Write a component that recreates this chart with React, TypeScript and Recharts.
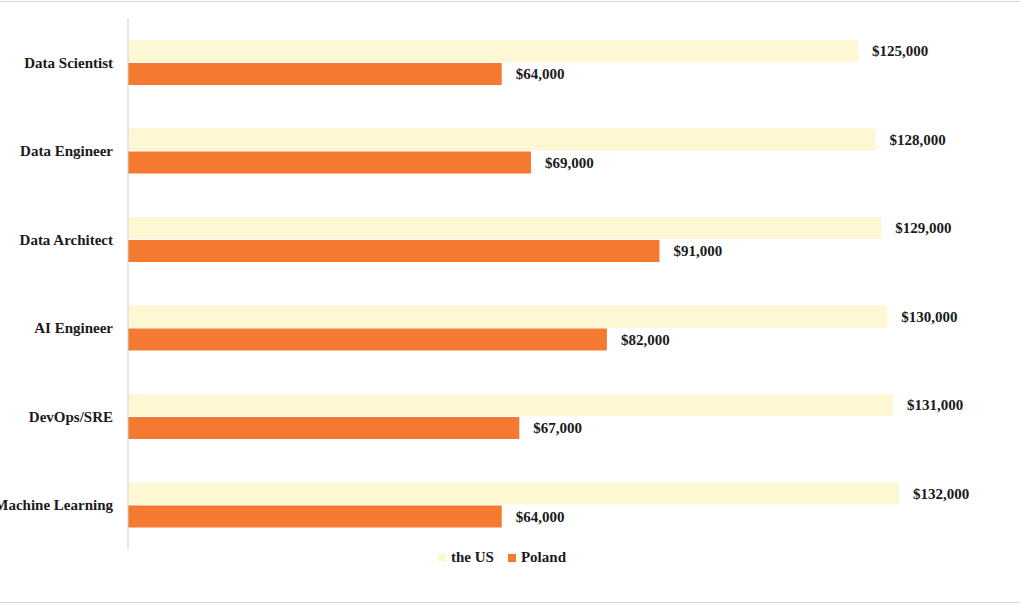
import { BarChart, Bar, XAxis, YAxis, Legend, LabelList } from 'recharts';

const roles = ['Data Scientist', 'Data Engineer', 'Data Architect', 'AI Engineer', 'DevOps/SRE', 'Machine Learning'];
const usSalary = [125000, 128000, 129000, 130000, 131000, 132000];
const plSalary = [64000, 69000, 91000, 82000, 67000, 64000];

const data = roles.map((role, i) => ({ role, us: usSalary[i], pl: plSalary[i] }));

const US_COLOR = '#fdf8d3';
const PL_COLOR = '#f47a32';
const fmt = (v: number) => '$' + v.toLocaleString('en-US');
const font = '"Liberation Serif", "DejaVu Serif", serif';

function LegendBox() {
  const items = [
    { name: 'the US', color: US_COLOR },
    { name: 'Poland', color: PL_COLOR },
  ];
  return (
    <div style={{ display: 'flex', justifyContent: 'center', gap: 14, fontSize: 15, fontWeight: 700, fontFamily: font, color: '#1a1a1a' }}>
      {items.map((it) => (
        <span key={it.name} style={{ display: 'flex', alignItems: 'center', gap: 5 }}>
          <span style={{ width: 8, height: 8, background: it.color, display: 'inline-block' }} />
          {it.name}
        </span>
      ))}
    </div>
  );
}

export default function App() {
  return (
    <div style={{ position: 'absolute', left: 0, top: 0, width: 1020, height: 605, background: '#fff', fontFamily: font }}>
      <div style={{ position: 'absolute', left: 0, right: 0, top: 1, borderTop: '1px solid #d6d6d6' }} />
      <div style={{ position: 'absolute', left: 0, right: 0, top: 602, borderTop: '1px solid #d6d6d6' }} />
      <BarChart
        width={1020}
        height={605}
        data={data}
        layout="vertical"
        margin={{ top: 18, right: 16, bottom: 22, left: 0 }}
        barGap={1}
        barCategoryGap={22}
        style={{ overflow: 'hidden' }}
      >
        <XAxis type="number" domain={[0, 150000]} hide />
        <YAxis
          type="category"
          dataKey="role"
          width={128}
          tickSize={0}
          tickMargin={15}
          axisLine={{ stroke: '#cfcfcf' }}
          tick={{ fill: '#1a1a1a', fontSize: 15, fontWeight: 700, fontFamily: font }}
        />
        <Legend verticalAlign="bottom" height={34} content={() => <LegendBox />} />
        <Bar dataKey="us" name="the US" fill={US_COLOR} barSize={22} isAnimationActive={false}>
          <LabelList dataKey="us" position="right" offset={14} formatter={fmt}
            style={{ fill: '#1a1a1a', fontSize: 15, fontWeight: 700, fontFamily: font }} />
        </Bar>
        <Bar dataKey="pl" name="Poland" fill={PL_COLOR} barSize={22} isAnimationActive={false}>
          <LabelList dataKey="pl" position="right" offset={14} formatter={fmt}
            style={{ fill: '#1a1a1a', fontSize: 15, fontWeight: 700, fontFamily: font }} />
        </Bar>
      </BarChart>
    </div>
  );
}
